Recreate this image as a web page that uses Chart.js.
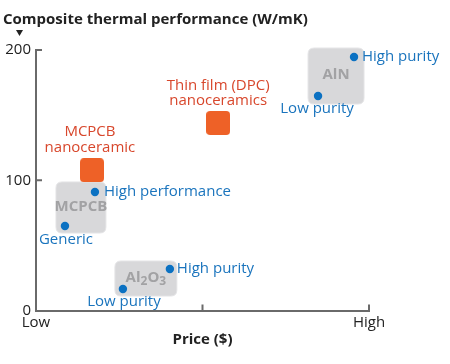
<!DOCTYPE html>
<html>
<head>
<meta charset="utf-8">
<script src="https://cdn.jsdelivr.net/npm/chart.js@4/dist/chart.umd.min.js"></script>
<style>
  html, body { margin: 0; padding: 0; background: #fff; }
  #wrap { width: 450px; height: 364px; position: relative; }
</style>
</head>
<body>
<div id="wrap"><canvas id="c" width="450" height="364"></canvas></div>
<script>
// ---- Data ----
const yTickValues = [0, 100, 200];
const xTickLabels = ['Low', '', 'High'];
const xTickValues = [0, 0.5, 1];

// material groups (gray boxes)
const groupNames = ['MCPCB', 'Al2O3', 'AlN'];
const groupPriceMin = [0.060, 0.237, 0.817];
const groupPriceMax = [0.210, 0.423, 0.985];
const groupPerfMin = [59.5, 11.1, 158.5];
const groupPerfMax = [98.7, 38.0, 201.5];

// conventional substrates (blue points)
const pointPrice = [0.087, 0.177, 0.261, 0.402, 0.847, 0.955];
const pointPerf = [64.9, 91.0, 16.5, 31.9, 164.7, 194.6];
const pointLabels = ['Generic', 'High performance', 'Low purity', 'High purity', 'Low purity', 'High purity'];

// nanoceramics (orange squares)
const nanoPrice = [0.168, 0.547];
const nanoPerf = [107.7, 144.0];
const nanoLabels = [['MCPCB', 'nanoceramic'], ['Thin film (DPC)', 'nanoceramics']];

// ---- Styles / label placement (not data) ----
const FONT = '"Open Sans", "Noto Sans", sans-serif';
const BLUE = '#0b71c2';
const BLUE_TEXT = '#1a74bd';
const ORANGE = '#ee6127';
const ORANGE_TEXT = '#d8472c';
const BOX_FILL = '#d8d8da';
const BOX_TEXT = '#a2a2a4';
const AXIS = '#6a6a6a';
// [dx, dy, align] relative to each blue point
const pointLabelPlacement = [
  [1, 14, 'center'], [9, 0, 'left'], [1, 13, 'center'],
  [7, 0, 'left'], [-1, 13, 'center'], [8, 0, 'left']
];
const nanoLabelOffsets = [[-2, -38, -22], [0, -37, -22]];

function roundRect(ctx, x, y, w, h, r) {
  ctx.beginPath();
  ctx.moveTo(x + r, y);
  ctx.lineTo(x + w - r, y);
  ctx.quadraticCurveTo(x + w, y, x + w, y + r);
  ctx.lineTo(x + w, y + h - r);
  ctx.quadraticCurveTo(x + w, y + h, x + w - r, y + h);
  ctx.lineTo(x + r, y + h);
  ctx.quadraticCurveTo(x, y + h, x, y + h - r);
  ctx.lineTo(x, y + r);
  ctx.quadraticCurveTo(x, y, x + r, y);
  ctx.closePath();
}

// rounded square marker for nanoceramics
const sq = document.createElement('canvas');
sq.width = 24; sq.height = 24;
(function () {
  const c = sq.getContext('2d');
  c.fillStyle = ORANGE;
  roundRect(c, 0, 0, 24, 24, 4);
  c.fill();
})();

function drawChem(ctx, text, cx, cy, size) {
  // draws text with digits as subscripts, centred at cx
  const parts = [];
  for (const ch of text) {
    const sub = /[0-9]/.test(ch);
    parts.push({ ch, sub });
  }
  const fMain = 'bold ' + size + 'px ' + FONT;
  const fSub = 'bold ' + Math.round(size * 0.8) + 'px ' + FONT;
  let w = 0;
  parts.forEach(p => { ctx.font = p.sub ? fSub : fMain; p.w = ctx.measureText(p.ch).width; w += p.w; });
  let x = cx - w / 2;
  ctx.textAlign = 'left';
  ctx.textBaseline = 'middle';
  parts.forEach(p => {
    ctx.font = p.sub ? fSub : fMain;
    ctx.fillText(p.ch, x, p.sub ? cy + 4 : cy);
    x += p.w;
  });
}

const decor = {
  id: 'decor',
  beforeDatasetsDraw(chart) {
    const { ctx, scales: { x, y } } = chart;
    ctx.save();
    for (let i = 0; i < groupNames.length; i++) {
      const x0 = x.getPixelForValue(groupPriceMin[i]);
      const x1 = x.getPixelForValue(groupPriceMax[i]);
      const y0 = y.getPixelForValue(groupPerfMax[i]);
      const y1 = y.getPixelForValue(groupPerfMin[i]);
      ctx.fillStyle = BOX_FILL;
      roundRect(ctx, x0, y0, x1 - x0, y1 - y0, 6);
      ctx.fill();
      ctx.strokeStyle = '#e4e4e6';
      ctx.lineWidth = 1;
      ctx.stroke();
      ctx.fillStyle = BOX_TEXT;
      drawChem(ctx, groupNames[i], (x0 + x1) / 2, (y0 + y1) / 2 - 1, 15);
    }
    ctx.restore();
  },
  afterDatasetsDraw(chart) {
    const { ctx, scales: { x, y } } = chart;
    ctx.save();
    // blue labels
    ctx.font = '15px ' + FONT;
    ctx.fillStyle = BLUE_TEXT;
    ctx.textBaseline = 'middle';
    for (let i = 0; i < pointLabels.length; i++) {
      const px = x.getPixelForValue(pointPrice[i]);
      const py = y.getPixelForValue(pointPerf[i]);
      const [dx, dy, al] = pointLabelPlacement[i];
      ctx.textAlign = al;
      ctx.fillText(pointLabels[i], px + dx, py + dy);
    }
    // orange labels
    ctx.fillStyle = ORANGE_TEXT;
    ctx.textAlign = 'center';
    for (let i = 0; i < nanoLabels.length; i++) {
      const px = x.getPixelForValue(nanoPrice[i]);
      const py = y.getPixelForValue(nanoPerf[i]);
      const [dx, d1, d2] = nanoLabelOffsets[i];
      ctx.fillText(nanoLabels[i][0], px + dx, py + d1);
      ctx.fillText(nanoLabels[i][1], px + dx, py + d2);
    }
    ctx.restore();
  },
  afterDraw(chart) {
    const { ctx, chartArea, scales: { x, y } } = chart;
    ctx.save();
    // inside tick marks
    ctx.strokeStyle = AXIS;
    ctx.lineWidth = 2;
    ctx.beginPath();
    yTickValues.slice(1).forEach(v => {
      const py = y.getPixelForValue(v);
      ctx.moveTo(chartArea.left, py);
      ctx.lineTo(chartArea.left + 6, py);
    });
    xTickValues.slice(1).forEach(v => {
      const px = x.getPixelForValue(v);
      ctx.moveTo(px, chartArea.bottom);
      ctx.lineTo(px, chartArea.bottom - 6);
    });
    ctx.stroke();
    // axis titles
    ctx.fillStyle = '#222';
    ctx.font = 'bold 15px ' + FONT;
    ctx.textBaseline = 'middle';
    ctx.textAlign = 'left';
    ctx.fillText('Composite thermal performance (W/mK)', 3, 20);
    ctx.textAlign = 'center';
    ctx.fillText('Price ($)', (chartArea.left + chartArea.right) / 2, 340);
    // small down triangle marker
    ctx.beginPath();
    ctx.moveTo(16, 30);
    ctx.lineTo(23, 30);
    ctx.lineTo(19.5, 36);
    ctx.closePath();
    ctx.fill();
    ctx.restore();
  }
};

new Chart(document.getElementById('c'), {
  type: 'scatter',
  data: {
    datasets: [
      {
        label: 'Conventional',
        data: pointPrice.map((p, i) => ({ x: p, y: pointPerf[i] })),
        backgroundColor: BLUE,
        borderColor: BLUE,
        pointRadius: 4.2,
        pointHoverRadius: 4.2,
        borderWidth: 0,
        clip: false
      },
      {
        label: 'Nanoceramic',
        data: nanoPrice.map((p, i) => ({ x: p, y: nanoPerf[i] })),
        pointStyle: sq,
        pointRadius: 12,
        backgroundColor: ORANGE,
        clip: false
      }
    ]
  },
  options: {
    responsive: false,
    animation: false,
    layout: { padding: { top: 50, right: 81, left: 0, bottom: 0 } },
    plugins: { legend: { display: false }, tooltip: { enabled: false }, title: { display: false } },
    scales: {
      x: {
        type: 'linear',
        min: 0, max: 1,
        afterFit(s) { s.height = 53.5; },
        afterBuildTicks(s) { s.ticks = xTickValues.map(v => ({ value: v })); },
        grid: { color: 'rgba(0,0,0,0)', drawTicks: false },
        border: { display: true, color: AXIS, width: 2 },
        ticks: {
          autoSkip: false, maxRotation: 0, padding: 3,
          color: '#222', font: { family: FONT, size: 15 },
          callback: (v, i) => xTickLabels[xTickValues.indexOf(v)]
        }
      },
      y: {
        type: 'linear',
        min: 0, max: 200,
        afterFit(s) { s.width = 36; },
        afterBuildTicks(s) { s.ticks = yTickValues.map(v => ({ value: v })); },
        grid: { color: 'rgba(0,0,0,0)', drawTicks: false },
        border: { display: true, color: AXIS, width: 2 },
        ticks: {
          padding: 5, color: '#222', font: { family: FONT, size: 15 },
          callback: v => String(v)
        }
      }
    }
  },
  plugins: [decor]
});
</script>
</body>
</html>
